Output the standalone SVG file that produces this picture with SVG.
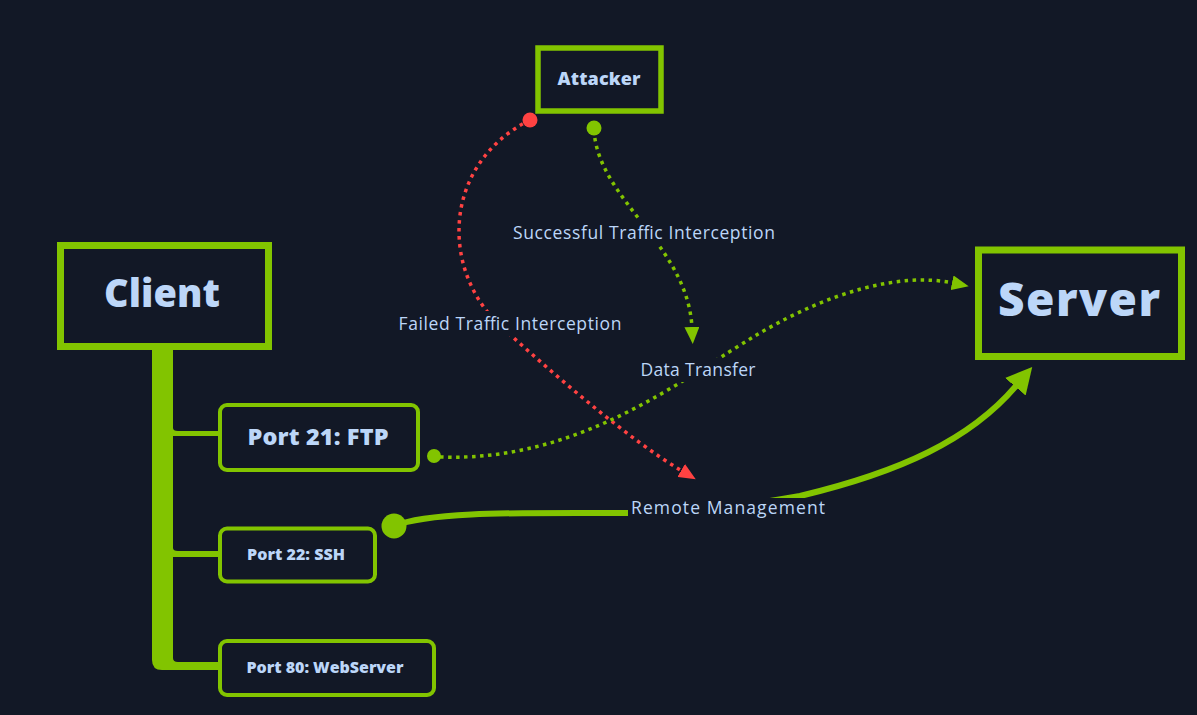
<svg xmlns="http://www.w3.org/2000/svg" width="1197" height="715" viewBox="0 0 1197 715">
<defs>
<style>
.bg{fill:#121826}
.box{fill:#121826;stroke:#82c400}
.lbl{fill:#bcd6f8;font-family:"Open Sans","Noto Sans","Liberation Sans",sans-serif;font-size:17.5px;text-anchor:middle}
.ttl{fill:#bcd6f8;font-family:"Open Sans","Noto Sans","Liberation Sans",sans-serif;font-weight:800;text-anchor:middle}
.dotg{fill:none;stroke:#82c400;stroke-width:3.5;stroke-dasharray:3.5 4.5}
.dotr{fill:none;stroke:#ff4242;stroke-width:3.5;stroke-dasharray:3.5 4.5}
</style>
<marker id="ag" markerUnits="userSpaceOnUse" viewBox="0 0 17 15" markerWidth="17" markerHeight="15" refX="1" refY="7.5" orient="auto"><path d="M0,0 L17,7.5 L0,15 Z" fill="#82c400"/></marker>
<marker id="ar" markerUnits="userSpaceOnUse" viewBox="0 0 17 15" markerWidth="17" markerHeight="15" refX="1" refY="7.5" orient="auto"><path d="M0,0 L17,7.5 L0,15 Z" fill="#ff4242"/></marker>
<marker id="abig" markerUnits="userSpaceOnUse" viewBox="0 0 26 27" markerWidth="26" markerHeight="27" refX="1" refY="13.5" orient="auto"><path d="M0,0 L26,13.5 L0,27 Z" fill="#82c400"/></marker>
</defs>
<rect class="bg" x="0" y="0" width="1197" height="715"/>

<g id="connectors">
<path class="dotr" d="M530,120 C 440,165 440,275 505,330 C 560,380 630,440 682,471" marker-end="url(#ar)"/>
<path class="dotg" d="M594,130 C 598,200 688,245 692,328" marker-end="url(#ag)"/>
<path class="dotg" d="M440,457 C 580,462 680,380 760,333 C 830,292 900,272 953,283" marker-end="url(#ag)"/>
<path d="M394,526 C 430,511 520,513 630,513 C 700,513 760,503 800,496 C 900,472 970,440 1016,386" fill="none" stroke="#82c400" stroke-width="6" marker-end="url(#abig)"/>
<circle cx="530" cy="120" r="7.5" fill="#ff4242"/>
<circle cx="594" cy="128" r="7.5" fill="#82c400"/>
<circle cx="434" cy="456" r="7" fill="#82c400"/>
<circle cx="394" cy="526" r="12.5" fill="#82c400"/>
<path d="M152,348 L173,348 L173,428 Q173,431 178,431 L220,431 L220,436 L173,436 L173,548 Q173,551 178,551 L220,551 L220,557 L173,557 L173,658 Q173,662 178,662 L220,662 L220,670 L162,670 Q152,670 152,660 Z" fill="#82c400"/>
</g>

<g id="labels">
<rect class="bg" x="510" y="219" width="268" height="26"/>
<text class="lbl" x="644" y="239" textLength="262">Successful Traffic Interception</text>
<rect class="bg" x="395" y="311" width="229" height="25"/>
<text class="lbl" x="510" y="330" textLength="223">Failed Traffic Interception</text>
<rect class="bg" x="637" y="358" width="122" height="24"/>
<text class="lbl" x="698" y="376" textLength="115">Data Transfer</text>
<rect class="bg" x="628" y="498" width="200" height="23"/>
<text class="lbl" x="728" y="514" textLength="194">Remote Management</text>
</g>

<g id="attacker">
<rect class="box" x="538" y="48" width="123" height="63" stroke-width="5.5"/>
<text class="ttl" x="599" y="85" font-size="18" textLength="83">Attacker</text>
</g>
<g id="client">
<rect class="box" x="60.5" y="245.5" width="208" height="101" stroke-width="7"/>
<text class="ttl" x="162" y="307" font-size="38" textLength="116">Client</text>
</g>
<g id="server">
<rect class="box" x="978.5" y="250" width="203" height="106.5" stroke-width="7"/>
<text class="ttl" x="1079" y="316" font-size="46" textLength="162">Server</text>
</g>
<g id="port21">
<rect class="box" x="220" y="405" width="198" height="65" rx="7" stroke-width="4"/>
<text class="ttl" x="318" y="445" font-size="23.5" textLength="141">Port 21: FTP</text>
</g>
<g id="port22">
<rect class="box" x="220" y="528.5" width="155" height="53" rx="7" stroke-width="4"/>
<text class="ttl" x="296" y="560" font-size="16" font-weight="600" textLength="98">Port 22: SSH</text>
</g>
<g id="port80">
<rect class="box" x="220" y="641" width="214" height="54" rx="7" stroke-width="4"/>
<text class="ttl" x="325" y="673" font-size="16" font-weight="600" textLength="157">Port 80: WebServer</text>
</g>
</svg>
